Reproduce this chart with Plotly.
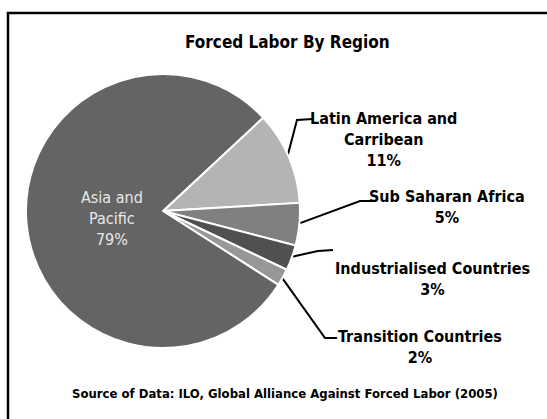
import math
import plotly.graph_objects as go

regions = ["Latin America and<br>Carribean", "Sub Saharan Africa", "Industrialised Countries",
           "Transition Countries", "Asia and<br>Pacific"]
shares = [11, 5, 3, 2, 79]
colors = ["#b4b4b4", "#808080", "#505050", "#979797", "#646464"]

W, H = 547, 419
cx, cy, R = 163, 211, 137
start_angle = 47  # degrees clockwise from 12 o'clock where the first slice begins

FONT = "DejaVu Sans Condensed, Liberation Sans Narrow, sans-serif"

fig = go.Figure()
fig.add_trace(go.Pie(
    labels=regions, values=shares, sort=False, direction="clockwise",
    rotation=start_angle, marker=dict(colors=colors, line=dict(color="white", width=2)),
    textinfo="none", hoverinfo="label+percent", showlegend=False,
    domain=dict(x=[(cx - R) / W, (cx + R) / W], y=[(H - cy - R) / H, (H - cy + R) / H]),
))

# overlay axis in pixel coordinates for leader lines and labels
fig.add_trace(go.Scatter(x=[0, W], y=[0, H], mode="markers", marker=dict(opacity=0),
                         hoverinfo="skip", showlegend=False))

total = sum(shares)
cum = 0
mids = []
for v in shares:
    a = start_angle + (cum + v / 2) / total * 360
    mids.append(a)
    cum += v

def edge(a, r=R):
    t = math.radians(a)
    return cx + r * math.sin(t), cy - r * math.cos(t)

# label anchor (text center) and elbow for each outside slice
label_pos = [(383, 139), (447, 207), (432, 279), (420, 347)]
elbows = [[(297, 120), (313, 119)], [(360, 201), (372, 201)], [(318, 251), (333, 250)], [(325, 338), (337, 338)]]
label_text = ["Latin America and<br>Carribean<br>11%", "Sub Saharan Africa<br>5%",
              "Industrialised Countries<br>3%", "Transition Countries<br>2%"]

for i in range(4):
    x0, y0 = edge(mids[i], R - 2)
    pts = [(x0, y0)] + elbows[i]
    fig.add_trace(go.Scatter(x=[p[0] for p in pts], y=[p[1] for p in pts], mode="lines",
                             line=dict(color="black", width=2), hoverinfo="skip", showlegend=False))
    fig.add_annotation(x=label_pos[i][0], y=label_pos[i][1], text=label_text[i], showarrow=False,
                       font=dict(family=FONT, size=16, color="black", weight="bold"),
                       xanchor="center", yanchor="middle")

fig.add_annotation(x=112, y=218, text="Asia and<br>Pacific<br>79%", showarrow=False,
                   font=dict(family=FONT, size=16, color="#e8e8e8"), xanchor="center", yanchor="middle")

fig.add_annotation(x=287, y=42, text="Forced Labor By Region", showarrow=False,
                   font=dict(family=FONT, size=17, color="black", weight="bold"))
fig.add_annotation(x=285, y=393, text="Source of Data: ILO, Global Alliance Against Forced Labor (2005)",
                   showarrow=False, font=dict(family=FONT, size=13, color="black", weight="bold"))

fig.add_shape(type="rect", x0=8, y0=13, x1=W + 20, y1=H + 20, line=dict(color="black", width=2.5),
              xref="x", yref="y", layer="above")

fig.update_layout(
    width=W, height=H, margin=dict(l=0, r=0, t=0, b=0),
    paper_bgcolor="white", plot_bgcolor="rgba(0,0,0,0)",
    xaxis=dict(range=[0, W], visible=False, fixedrange=True),
    yaxis=dict(range=[H, 0], visible=False, fixedrange=True),
)
fig.write_html("out.html", config={"displayModeBar": False},
               post_script="document.body.style.margin='0';")
